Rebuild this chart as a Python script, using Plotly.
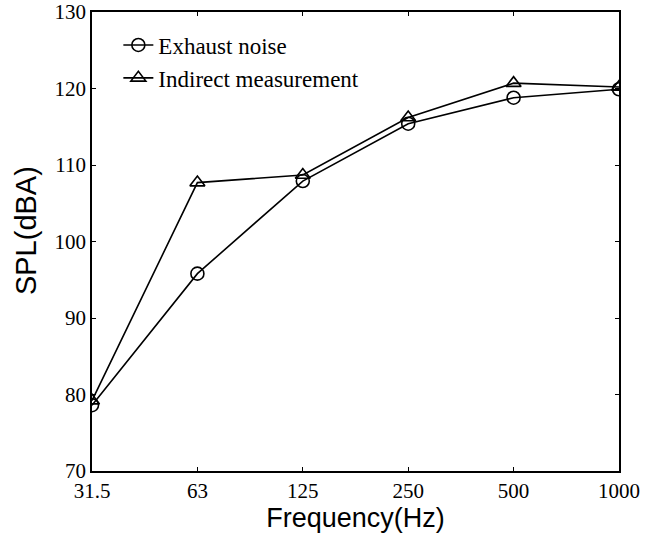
import plotly.graph_objects as go

freqs = ["31.5", "63", "125", "250", "500", "1000"]
exhaust = [78.6, 95.8, 107.9, 115.4, 118.8, 119.9]
indirect = [79.2, 107.7, 108.7, 116.2, 120.7, 120.2]

fig = go.Figure()
fig.add_trace(go.Scatter(x=freqs, y=exhaust, mode="lines+markers", name="Exhaust noise",
                         line=dict(color="black", width=1.6),
                         marker=dict(symbol="circle-open", size=13, color="black", line=dict(width=1.6))))
fig.add_trace(go.Scatter(x=freqs, y=indirect, mode="lines+markers", name="Indirect measurement",
                         line=dict(color="black", width=1.6),
                         marker=dict(symbol="triangle-up-open", size=13, color="black", line=dict(width=1.6))))

axis_common = dict(showline=True, linecolor="black", linewidth=1.5, mirror="ticks",
                   ticks="inside", ticklen=4, tickcolor="black", showgrid=False, zeroline=False,
                   automargin=False, ticklabeloverflow="allow",
                   tickfont=dict(family="Liberation Serif", size=21, color="black"))

fig.update_layout(
    width=646, height=538,
    margin=dict(l=92, r=27, t=12, b=67),
    plot_bgcolor="white", paper_bgcolor="white",
    showlegend=True,
    legend=dict(x=0.05, y=0.975, xanchor="left", yanchor="top", bgcolor="rgba(0,0,0,0)",
                font=dict(family="Liberation Serif", size=23, color="black"),
                tracegroupgap=0),
    xaxis=dict(type="category", range=[0, 5],
               title=dict(text="Frequency(Hz)", font=dict(family="Liberation Sans", size=27, color="black"), standoff=2),
               **axis_common),
    yaxis=dict(range=[70, 130], dtick=10, **axis_common),
    annotations=[dict(text="SPL(dBA)", textangle=-90, xref="paper", yref="paper",
                      x=-0.125, y=0.523, xanchor="center", yanchor="middle", showarrow=False,
                      font=dict(family="Liberation Sans", size=29, color="black"))],
)

fig.write_html("out.html")
